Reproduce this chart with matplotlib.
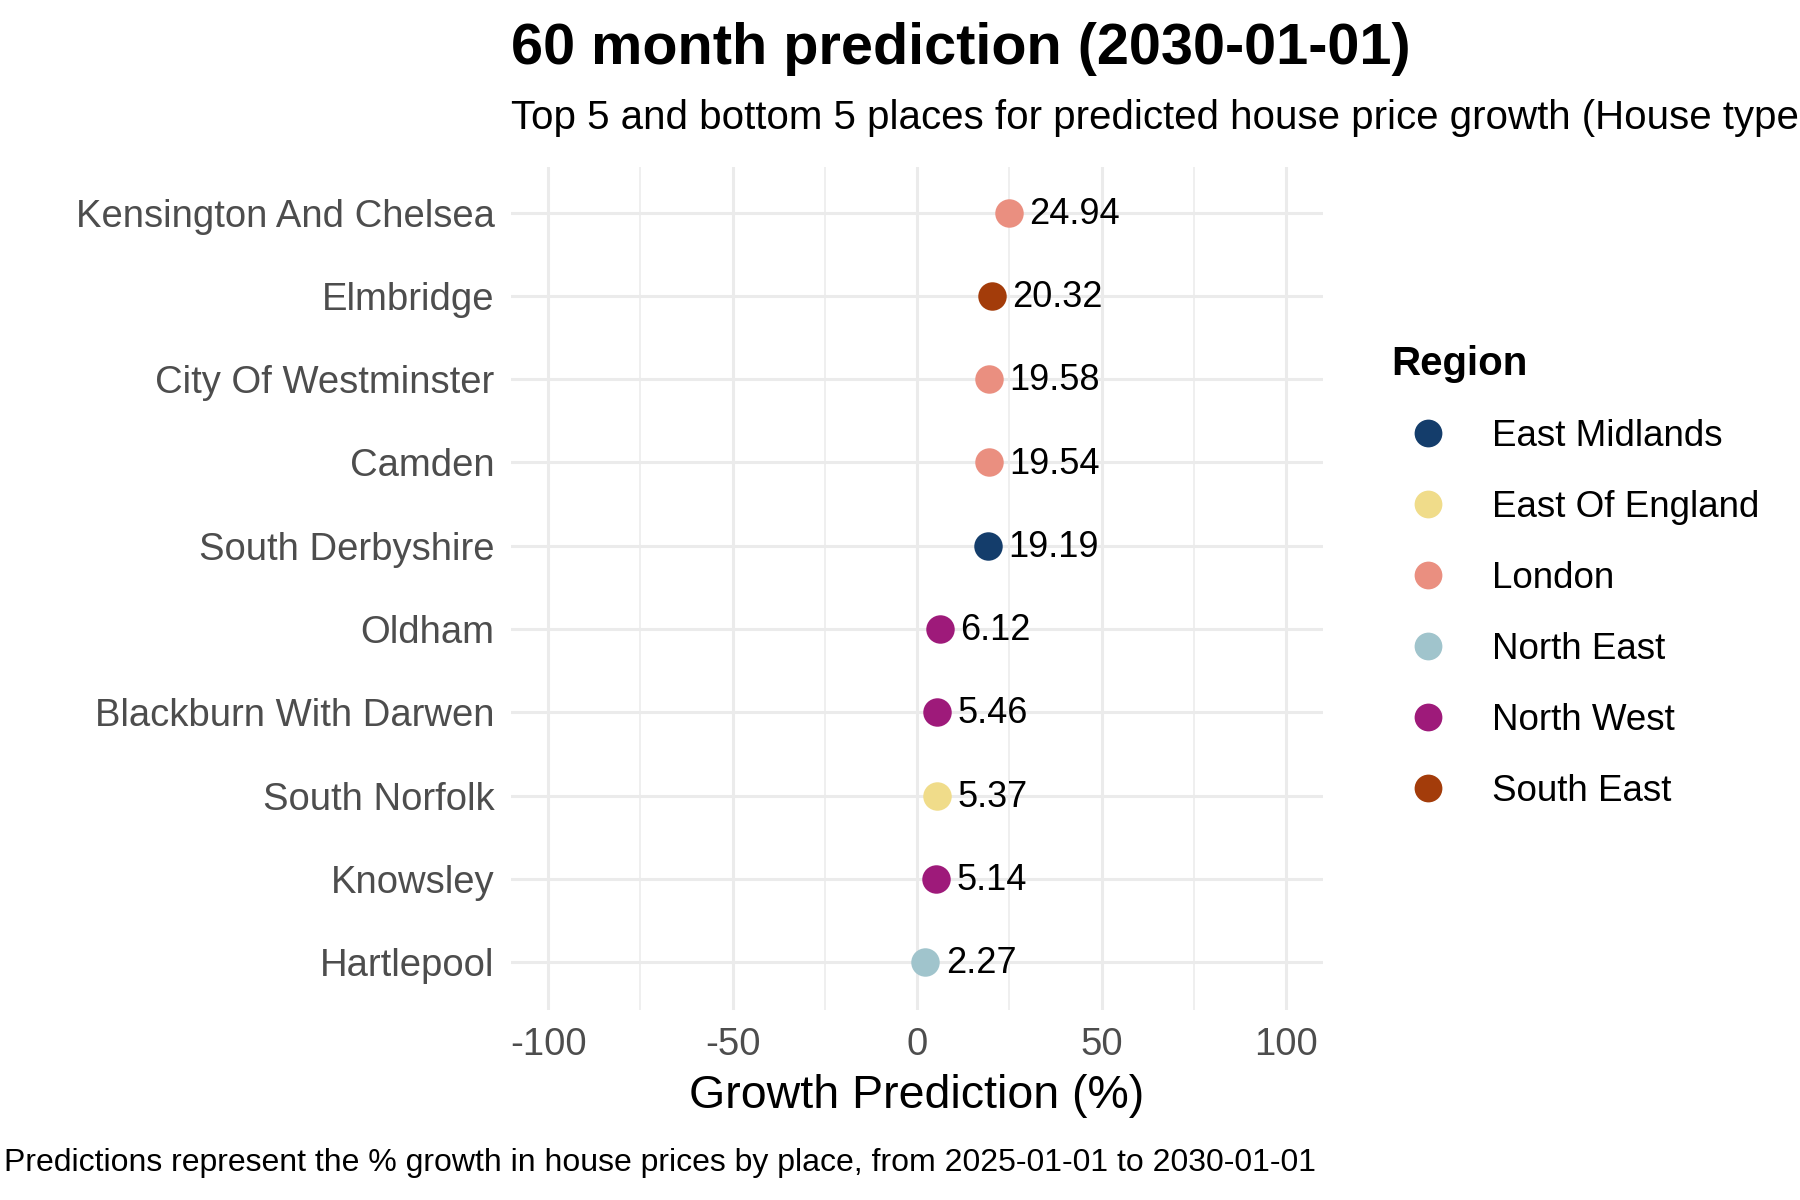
import matplotlib
matplotlib.use("Agg")
import matplotlib.pyplot as plt
from matplotlib.lines import Line2D

plt.rcParams['font.family'] = ['Liberation Sans', 'DejaVu Sans']

places = ['Kensington And Chelsea', 'Elmbridge', 'City Of Westminster', 'Camden',
          'South Derbyshire', 'Oldham', 'Blackburn With Darwen', 'South Norfolk',
          'Knowsley', 'Hartlepool']
growth = [24.94, 20.32, 19.58, 19.54, 19.19, 6.12, 5.46, 5.37, 5.14, 2.27]
regions = ['London', 'South East', 'London', 'London', 'East Midlands',
           'North West', 'North West', 'East Of England', 'North West', 'North East']
region_names = ['East Midlands', 'East Of England', 'London', 'North East',
                'North West', 'South East']
region_colors = ['#143d6b', '#f0dc8a', '#ea8f80', '#a0c4cc', '#9e1a7a', '#a33c0a']
cmap = dict(zip(region_names, region_colors))

fig = plt.figure(figsize=(18, 12), dpi=100)
ax = fig.add_axes([0.284, 0.158, 0.451, 0.703])

ypos = list(range(len(places)))[::-1]
for y, g, r in zip(ypos, growth, regions):
    ax.scatter(g, y, s=420, color=cmap[r], zorder=3, linewidths=0)
    ax.text(g + 5.5, y - 0.02, f'{g:.2f}', va='center', ha='left', fontsize=26, color='black', zorder=4)

ax.set_xlim(-110, 110)
ax.set_ylim(-0.58, 9.55)
ax.set_xticks([-100, -50, 0, 50, 100])
ax.set_xticklabels(['-100', '-50', '0', '50', '100'])
ax.set_xticks([-75, -25, 25, 75], minor=True)
ax.set_yticks(ypos)
ax.set_yticklabels(places)
ax.tick_params(axis='both', length=0, labelsize=27.5, labelcolor='#4d4d4d', pad=12)
ax.tick_params(axis='x', which='minor', length=0)
ax.grid(True, which='major', color='#ebebeb', linewidth=2.2)
ax.grid(True, which='minor', axis='x', color='#ebebeb', linewidth=1.1)
for s in ax.spines.values():
    s.set_visible(False)
ax.set_axisbelow(True)
ax.set_xlabel('Growth Prediction (%)', fontsize=33.5, labelpad=8)

fig.text(0.284, 0.937, '60 month prediction (2030-01-01)', fontsize=41.5, fontweight='bold', va='bottom')
fig.text(0.284, 0.886, 'Top 5 and bottom 5 places for predicted house price growth (House type: all)',
         fontsize=29, va='bottom')
fig.text(0.002, 0.018, 'Predictions represent the % growth in house prices by place, from 2025-01-01 to 2030-01-01',
         fontsize=23, va='bottom')

handles = [Line2D([], [], marker='o', linestyle='', markersize=20, color=c, markeredgewidth=0)
           for c in region_colors]
leg = fig.legend(handles, region_names, title='Region', loc='upper left',
                 bbox_to_anchor=(0.7625, 0.728), frameon=False, fontsize=26.5,
                 title_fontsize=29, labelspacing=0.98, handletextpad=0.75, borderpad=0)
leg.get_title().set_fontweight('bold')
leg._legend_box.align = 'left'

fig.savefig('out.png', dpi=100)
